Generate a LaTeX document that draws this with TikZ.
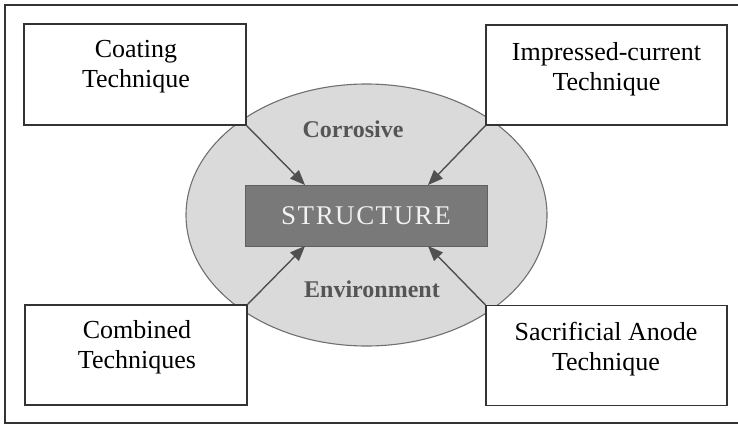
\documentclass[tikz,border=0pt]{standalone}
\usepackage{fontspec}
\setmainfont{Liberation Serif}
\usetikzlibrary{arrows.meta,shapes.geometric}
\definecolor{framec}{HTML}{333333}
\definecolor{ellfill}{HTML}{DADADA}
\definecolor{elldraw}{HTML}{707070}
\definecolor{structfill}{HTML}{797979}
\definecolor{structtext}{HTML}{F2F2F2}
\definecolor{envtext}{HTML}{555555}
\definecolor{arrowc}{HTML}{505050}
\begin{document}
\begin{tikzpicture}[x=1pt,y=-1pt,
  techbox/.style={draw=framec,line width=1.1pt,fill=white},
  techtext/.style={align=center,font=\fontsize{26}{30}\selectfont,inner sep=0pt},
  envlabel/.style={font=\fontsize{24}{28}\selectfont\bfseries,text=envtext,inner sep=0pt},
  conn/.style={draw=arrowc,line width=1.4pt,-{Triangle[length=15pt,width=12pt]}}]
\clip (0,0) rectangle (738,425);
\useasboundingbox (0,0) rectangle (738,425);
\draw[framec,line width=1.2pt] (5,5) rectangle (760,423);
\node[ellipse,draw=elldraw,line width=1.1pt,fill=ellfill,minimum width=361pt,minimum height=262pt,inner sep=0pt] (env) at (366.5,215) {};
\node[envlabel] (corr) at (353,129) {Corrosive};
\node[envlabel] (envi) at (372,289) {Environment};
\node[draw=structfill!80!black,line width=0.6pt,fill=structfill,minimum width=242pt,minimum height=61pt,inner sep=0pt,text=structtext,font=\fontsize{27}{30}\selectfont] (struct) at (366,215.5) {S\kern1.5pt T\kern1.5pt R\kern1.5pt U\kern1.5pt C\kern1.5pt T\kern1.5pt U\kern1.5pt R\kern1.5pt E};
\node[techbox,minimum width=222pt,minimum height=101pt,inner sep=0pt] (tl) at (135,74.5) {};
\node[techbox,minimum width=241pt,minimum height=100pt,inner sep=0pt] (tr) at (606.5,75) {};
\node[techbox,minimum width=222pt,minimum height=100pt,inner sep=0pt] (bl) at (136,355) {};
\node[techbox,minimum width=241pt,minimum height=100pt,inner sep=0pt] (br) at (606.5,355.5) {};
\node[techtext] (tlt) at (136,67) {Coating\\Technique};
\node[techtext] (trt) at (606.5,69) {Impressed-current\\Technique};
\node[techtext] (blt) at (137,347) {Combined\\Techniques};
\node[techtext] (brt) at (606,349) {Sacrificial Anode\\Technique};
\coordinate (tltip) at (305,185);
\coordinate (trtip) at (428,185);
\coordinate (bltip) at (305,246);
\coordinate (brtip) at (428,246);
\draw[conn] (tl.south east) -- (tltip);
\draw[conn] (tr.south west) -- (trtip);
\draw[conn] (bl.north east) -- (bltip);
\draw[conn] (br.north west) -- (brtip);
\end{tikzpicture}
\end{document}
